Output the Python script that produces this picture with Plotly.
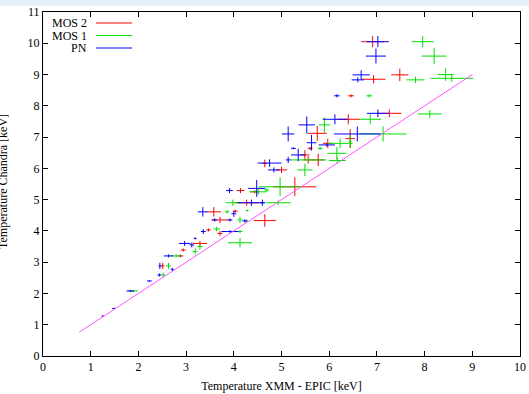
import plotly.graph_objects as go

# ---- data (x, y, xerr, yerr) ----
mos2_x = [6.91, 6.93, 7.48, 6.46, 7.26, 6.40, 5.75, 6.44, 5.97, 5.49, 5.60, 5.56, 5.77, 4.65, 5.00,
          5.28, 4.65, 4.14, 4.44, 4.27, 3.58, 4.03, 3.71, 3.47, 3.71, 3.29, 2.94, 2.88, 2.51]
mos2_y = [10.05, 8.85, 8.99, 8.32, 7.76, 7.57, 7.12, 6.95, 6.80, 6.43, 6.64, 6.27, 6.27, 6.16, 5.95,
          5.41, 4.33, 5.29, 5.25, 4.90, 4.61, 4.63, 4.35, 4.03, 3.92, 3.60, 3.39, 3.20, 2.88]
mos2_xe = [0.24, 0.25, 0.18, 0.06, 0.25, 0.24, 0.20, 0.10, 0.10, 0.10, 0.05, 0.10, 0.12, 0.05, 0.12,
           0.45, 0.23, 0.08, 0.10, 0.25, 0.15, 0.05, 0.18, 0.05, 0.05, 0.15, 0.05, 0.06, 0.04]
mos2_ye = [0.18, 0.13, 0.20, 0.05, 0.12, 0.16, 0.24, 0.30, 0.15, 0.15, 0.05, 0.12, 0.20, 0.12, 0.10,
           0.30, 0.20, 0.08, 0.05, 0.10, 0.15, 0.05, 0.10, 0.05, 0.08, 0.08, 0.05, 0.05, 0.10]

mos1_x = [7.96, 8.20, 7.81, 8.44, 8.57, 6.84, 8.11, 6.86, 7.13, 5.90, 6.23, 6.44, 6.16, 6.17, 5.81,
          5.56, 5.49, 4.97, 4.69, 4.93, 4.51, 3.98, 3.86, 4.28, 4.13, 4.27, 3.64, 4.13, 4.13, 3.29,
          3.19, 2.79, 2.63, 2.52, 1.89]
mos1_y = [10.05, 9.59, 8.83, 9.00, 8.88, 8.32, 7.74, 7.57, 7.10, 7.39, 6.80, 6.86, 6.48, 6.25, 6.64,
          6.27, 5.95, 5.41, 5.31, 4.90, 5.25, 4.90, 4.61, 4.65, 4.35, 4.32, 4.06, 3.98, 3.62, 3.50,
          3.34, 3.20, 2.88, 2.59, 2.08]
mos1_xe = [0.23, 0.26, 0.19, 0.17, 0.45, 0.06, 0.25, 0.23, 0.49, 0.12, 0.26, 0.03, 0.20, 0.18, 0.05,
           0.38, 0.16, 0.45, 0.05, 0.26, 0.18, 0.15, 0.05, 0.03, 0.05, 0.03, 0.07, 0.05, 0.25, 0.05,
           0.05, 0.12, 0.05, 0.04, 0.10]
mos1_ye = [0.18, 0.26, 0.10, 0.20, 0.12, 0.05, 0.12, 0.16, 0.24, 0.24, 0.15, 0.20, 0.20, 0.10, 0.05,
           0.05, 0.20, 0.30, 0.05, 0.08, 0.10, 0.10, 0.05, 0.03, 0.10, 0.05, 0.07, 0.05, 0.15, 0.10,
           0.10, 0.05, 0.10, 0.08, 0.03]

pn_x = [7.02, 6.98, 6.67, 6.60, 6.16, 7.02, 6.12, 5.53, 5.14, 6.59, 5.63, 5.95, 5.25, 5.35, 4.75,
        4.84, 5.14, 4.37, 4.60, 4.48, 3.91, 3.35, 3.92, 4.23, 4.00, 3.36, 3.92, 2.97, 3.12, 3.19,
        2.63, 2.45, 2.44, 2.71, 2.23, 1.83, 1.49, 1.25, 3.60]
pn_y = [10.05, 9.59, 8.99, 8.83, 8.32, 7.76, 7.57, 7.39, 7.10, 7.10, 6.82, 6.75, 6.64, 6.43, 6.17,
        5.95, 6.27, 4.90, 4.90, 5.36, 5.29, 4.61, 4.35, 4.32, 4.55, 3.98, 3.98, 3.60, 3.55, 3.76,
        3.20, 2.88, 2.59, 2.77, 2.40, 2.08, 1.52, 1.28, 4.35]
pn_xe = [0.23, 0.21, 0.18, 0.13, 0.06, 0.23, 0.26, 0.17, 0.13, 0.49, 0.10, 0.17, 0.05, 0.15, 0.25,
         0.12, 0.05, 0.28, 0.05, 0.18, 0.07, 0.10, 0.05, 0.05, 0.05, 0.05, 0.18, 0.12, 0.05, 0.03,
         0.10, 0.03, 0.04, 0.03, 0.05, 0.08, 0.04, 0.02, 0.05]
pn_ye = [0.18, 0.24, 0.15, 0.08, 0.05, 0.12, 0.16, 0.27, 0.24, 0.24, 0.25, 0.05, 0.03, 0.20, 0.12,
         0.08, 0.10, 0.10, 0.10, 0.27, 0.08, 0.15, 0.05, 0.05, 0.10, 0.08, 0.05, 0.08, 0.08, 0.03,
         0.05, 0.10, 0.05, 0.05, 0.02, 0.03, 0.02, 0.02, 0.05]

line_x = [0.76, 9.0]
line_y = [0.76, 9.0]

x_ticks = list(range(0, 11))
y_ticks = list(range(0, 12))

series = [
    ("MOS 2", "#ff0000", mos2_x, mos2_y, mos2_xe, mos2_ye),
    ("MOS 1", "#00e000", mos1_x, mos1_y, mos1_xe, mos1_ye),
    ("PN", "#0000ff", pn_x, pn_y, pn_xe, pn_ye),
]

FONT = "Liberation Serif"
fig = go.Figure()

for name, col, xs, ys, xe, ye in series:
    fig.add_trace(go.Scatter(
        x=xs, y=ys, mode="markers", name=name, showlegend=False,
        marker=dict(size=0.1, color=col, opacity=0),
        error_x=dict(type="data", array=xe, visible=True, color=col, thickness=1, width=0),
        error_y=dict(type="data", array=ye, visible=True, color=col, thickness=1, width=0),
    ))

fig.add_trace(go.Scatter(x=line_x, y=line_y, mode="lines", showlegend=False,
                         line=dict(color="#ff55ff", width=1)))

# manual legend (text left of line sample, as in the reference)
L, T, W, H = 43, 12, 477, 344
def px_x(p):
    return (p - L) / W
def px_y(p):
    return 1 - (p - T) / H

shapes = []
annotations = []
for i, (name, col, *_rest) in enumerate(series):
    yy = 23 + i * 12.5
    shapes.append(dict(type="line", xref="paper", yref="paper",
                       x0=px_x(96), x1=px_x(132), y0=px_y(yy), y1=px_y(yy),
                       line=dict(color=col, width=1.2)))
    annotations.append(dict(text=name, xref="paper", yref="paper", x=px_x(89), y=px_y(yy),
                            xanchor="right", yanchor="middle", showarrow=False,
                            font=dict(family=FONT, size=12, color="black")))

# top light-blue strip of the screenshot
shapes.append(dict(type="rect", xref="paper", yref="paper", x0=px_x(0), x1=px_x(529),
                   y0=px_y(6), y1=px_y(0), fillcolor="#e6eef8", line=dict(width=0), layer="below"))

annotations.append(dict(text="Temperature Chandra [keV]", xref="paper", yref="paper",
                        x=px_x(3), y=px_y(182), textangle=-90, showarrow=False,
                        xanchor="center", yanchor="middle",
                        font=dict(family=FONT, size=12, color="black")))

axis_common = dict(showgrid=False, zeroline=False, showline=True, linecolor="black", linewidth=1,
                   mirror="ticks", ticks="inside", ticklen=5, tickcolor="black", tickwidth=1,
                   automargin=False,
                   tickfont=dict(family=FONT, size=12, color="black"))

fig.update_xaxes(range=[0, 10], tickvals=x_ticks, **axis_common,
                 title=dict(text="Temperature XMM - EPIC [keV]", standoff=8,
                            font=dict(family=FONT, size=12, color="black")))
fig.update_yaxes(range=[0, 11], tickvals=y_ticks, **axis_common)

fig.update_layout(width=529, height=394, margin=dict(l=L, r=529 - L - W, t=T, b=394 - T - H),
                  plot_bgcolor="white", paper_bgcolor="white",
                  shapes=shapes, annotations=annotations, showlegend=False)

fig.write_html("out.html", config={"displayModeBar": False},
               post_script="document.body.style.margin='0';document.body.style.overflow='hidden';")
